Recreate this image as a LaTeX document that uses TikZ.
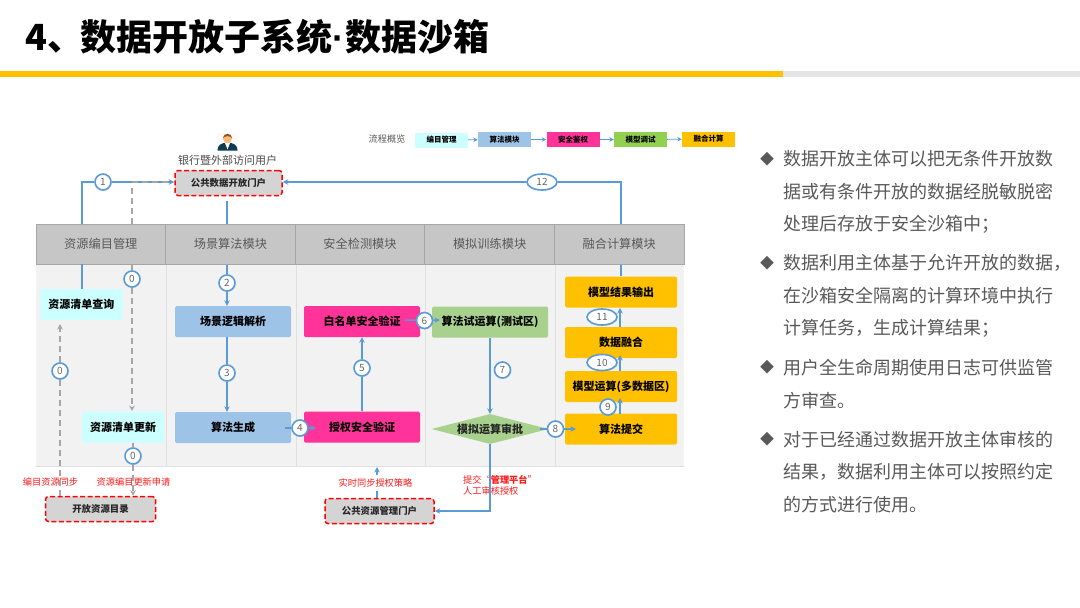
\documentclass[tikz,border=0pt]{standalone}
\usepackage{fontspec}
\setmainfont{Noto Sans CJK SC}
\newfontfamily\latinf{Liberation Sans}
\usetikzlibrary{arrows.meta,shapes.geometric,shadows}
\definecolor{flowblue}{HTML}{5B9BD5}
\definecolor{hdrgray}{HTML}{C6C6C6}
\definecolor{cyanbox}{HTML}{CCFFFF}
\definecolor{bluebox}{HTML}{9DC3E6}
\definecolor{pinkbox}{HTML}{FF3399}
\definecolor{greenbox}{HTML}{A9D18E}
\definecolor{legendgreen}{HTML}{92D050}
\definecolor{orangebox}{HTML}{FFC000}
\definecolor{bodytext}{HTML}{595959}
\definecolor{suit}{HTML}{0E3A52}
\newcommand{\fsz}[1]{\fontsize{#1}{#1}\selectfont}
\tikzset{
 x=1pt,y=-1pt,
 hdr/.style={draw=black!35,line width=1pt,fill=hdrgray,minimum width=129.6pt,minimum height=40pt,inner sep=0pt,text=black!65,font=\fsz{12.2}},
 bx/.style={rounded corners=1.5pt,inner sep=0pt,text=black,font=\fsz{11}\bfseries,minimum height=31pt,minimum width=116pt},
 cyanb/.style={bx,fill=cyanbox,minimum width=82pt},
 blueb/.style={bx,fill=bluebox},
 pinkb/.style={bx,fill=pinkbox},
 greenb/.style={bx,fill=greenbox},
 orangeb/.style={bx,fill=orangebox,minimum width=112pt},
 portal/.style={draw=red,fill=black!17,line width=1.5pt,dash pattern=on 5pt off 2.5pt,rounded corners=3pt,inner sep=0pt,minimum height=25pt,text=black!85,font=\fsz{9.4}\bfseries},
 num/.style={circle,draw=flowblue,line width=1.6pt,fill=white,inner sep=0pt,minimum size=16pt,text=black!60,font=\fsz{10},drop shadow={shadow xshift=.6pt,shadow yshift=-.8pt,opacity=.3}},
 numw/.style={num,ellipse,minimum width=30pt,minimum height=16pt},
 flow/.style={draw=flowblue,line width=1.5pt},
 flowa/.style={flow,-{Stealth[length=5.5pt,width=5.5pt]}},
 grayd/.style={draw=black!35,line width=1.3pt,dash pattern=on 6pt off 4pt},
 graya/.style={grayd,-{Stealth[length=5.5pt,width=5.5pt]}},
 redt/.style={text=red!90!white,font=\fsz{9.2},inner sep=0pt},
 lg/.style={inner sep=0pt,minimum width=53pt,minimum height=15pt,font=\fsz{7.5}\bfseries,text=black},
 lga/.style={draw=flowblue,line width=.9pt,-{Stealth[length=4.5pt,width=4.5pt]}},
 para/.style={anchor=west,align=left,inner sep=0pt,text=bodytext,font=\fontsize{18}{32.4}\selectfont},
 bul/.style={inner sep=0pt,text=bodytext,font=\fsz{14}},
}
\begin{document}
\begin{tikzpicture}
\useasboundingbox[fill=white] (0,0) rectangle (1080,608);
% title and rule
\node[anchor=west,inner sep=0pt,font=\fsz{36}\bfseries,text=black] (title) at (25,37) {4、\kern-3pt 数据开放子系统{\latinf ·}\kern1pt 数据沙箱};
\fill[orangebox] (0,71) rectangle (783,77);
\fill[black!10] (783,71) rectangle (1080,77);
% table
\node[fill=black!5,minimum width=648pt,minimum height=202pt,inner sep=0pt] (tbody) at (360,365) {};
\foreach \sx in {166,296,425,555}{\draw[black!12,line width=1pt] (\sx,264) -- (\sx,466);}
\draw[black!12,line width=.8pt] (36,466) -- (684,466);
\node[hdr] (h1) at (100.8,244) {资源编目管理};
\node[hdr] (h2) at (230.4,244) {场景算法模块};
\node[hdr] (h3) at (360,244) {安全检测模块};
\node[hdr] (h4) at (489.6,244) {模拟训练模块};
\node[hdr] (h5) at (619.2,244) {融合计算模块};
% user icon
\fill[black!2] (217,133) rectangle (238,151);
\fill[suit] (217.5,150.5) .. controls (217.5,145) and (221,143) .. (227.5,142.5) .. controls (234,143) and (237.5,145) .. (237.5,150.5) -- cycle;
\fill[white] (225,143) -- (230,143) -- (227.5,149.5) -- cycle;
\fill[orange!55!white] (227.5,138.5) circle[radius=4.5pt];
\fill[brown!70!black] (223,138) .. controls (223,132.5) and (232,132.5) .. (232,138) .. controls (229,135.5) and (226,135.5) .. (223,138) -- cycle;
\node[inner sep=0pt,text=black!70,font=\fsz{11}] (user) at (227.5,160) {银行暨外部访问用户};
% legend
\node[inner sep=0pt,text=black!65,font=\fsz{9.2}] (lgt) at (387,139) {流程概览};
\node[lg,fill=cyanbox] (l1) at (441.5,140) {编目管理};
\node[lg,fill=bluebox] (l2) at (504.5,139.5) {算法模块};
\node[lg,fill=pinkbox] (l3) at (573,139.5) {安全鉴权};
\node[lg,fill=legendgreen] (l4) at (640.5,139.5) {模型调试};
\node[lg,fill=orangebox] (l5) at (708.5,139) {融合计算};
\draw[lga] (l1) -- (l2);
\draw[lga] (l2) -- (l3);
\draw[lga] (l3) -- (l4);
\draw[lga] (l4) -- (l5);
% boxes
\node[portal,minimum width=107pt] (pa) at (228.5,183) {公共数据开放门户};
\node[portal,minimum width=110pt] (pb) at (100.5,509) {开放资源目录};
\node[portal,minimum width=109pt] (pc) at (379.5,511) {公共资源管理门户};
\node[cyanb] (q) at (81.5,304.5) {资源清单查询};
\node[cyanb] (u) at (123,427) {资源清单更新};
\node[blueb] (s1) at (233,321.5) {场景逻辑解析};
\node[blueb] (s2) at (233,427.5) {算法生成};
\node[pinkb] (w1) at (362,321.5) {白名单安全验证};
\node[pinkb] (w2) at (362,427) {授权安全验证};
\node[greenb] (g1) at (490,322) {算法试运算(测试区)};
\node[diamond,aspect=3.9,fill=greenbox,inner sep=0pt,minimum width=117pt,minimum height=30pt,text=black!85,font=\fsz{11}\bfseries] (d) at (490,429) {模拟运算审批};
\node[orangeb] (o1) at (621,292) {模型结果输出};
\node[orangeb] (o2) at (621,342.5) {数据融合};
\node[orangeb] (o3) at (621,386.5) {模型运算(多数据区)};
\node[orangeb] (o4) at (621,429) {算法提交};
% red labels
\node[redt] (r1) at (50.5,482) {编目资源同步};
\node[redt] (r2) at (133.5,482) {资源编目更新申请};
\node[redt] (r3) at (375.5,483) {实时同步授权策略};
\node[redt,anchor=west,align=left,font=\fontsize{9.2}{11}\selectfont] (r4) at (463,485.5) {提交“\textbf{管理平台}”\\人工审核授权};
% number badges
\node[num] (n1) at (103,182) {1};
\node[num] (z1) at (132,279) {0};
\node[num] (z2) at (60,371) {0};
\node[num] (z3) at (133,456) {0};
\node[num] (n2) at (227,283) {2};
\node[num] (n3) at (227,373) {3};
\node[num] (n4) at (300,428) {4};
\node[num] (n5) at (362,368) {5};
\node[num] (n6) at (424.5,320.5) {6};
\node[num] (n7) at (502.5,370) {7};
\node[num] (n8) at (555.5,429) {8};
\node[num] (n9) at (608,407) {9};
\node[numw] (n10) at (602,362.5) {10};
\node[numw] (n11) at (602,317) {11};
\node[numw] (n12) at (542,182) {12};
% connector anchors
\coordinate (c1a) at (82,224);
\coordinate (c1b) at (82,182);
\coordinate (c1c) at (82,264);
\coordinate (c1d) at (82,289);
\coordinate (c1g) at (132,182);
\coordinate (c2a) at (227,201);
\coordinate (g1a) at (132,188);
\coordinate (g1b) at (132,224);
\coordinate (g1c) at (132,264);
\coordinate (g1d) at (132,411);
\coordinate (c4a) at (285,428);
\coordinate (c4b) at (316,428);
\coordinate (c6a) at (405,320);
\coordinate (c6b) at (440,320);
\coordinate (c8a) at (540,429);
\coordinate (c8b) at (576,429);
\coordinate (c9a) at (620,414);
\coordinate (c9b) at (620,398);
\coordinate (c10a) at (620,371);
\coordinate (c10b) at (620,355);
\coordinate (c11a) at (620,327);
\coordinate (c11b) at (620,308);
\coordinate (c12) at (621,182);
\coordinate (cd) at (490,511);
\coordinate (cr) at (377,467);
\coordinate (cr2) at (377,475);
\coordinate (cr3) at (377,491);
% connectors
\draw[flow] (c1a) -- (c1b) -- (n1);
\draw[flowa] (n1) -- (pa.west |- n1);
\draw[grayd] (c1g) -- (170,182);
\draw[flow] (c2a) -- (h2.north -| c2a);
\draw[grayd] (g1a) -- (g1b);
\draw[grayd] (g1c) -- (z1);
\draw[graya] (z1) -- (g1d);
\draw[flow] (c1c) -- (c1d);
\draw[grayd] (pb.north -| z2) -- (z2);
\draw[graya] (z2) -- (60,324);
\draw[grayd] (u.south -| z3) -- (z3);
\draw[graya] (z3) -- (pb.north -| z3);
\draw[flow] (h2.south -| n2) -- (n2);
\draw[flowa] (n2) -- (s1.north -| n2);
\draw[flow] (s1.south -| n3) -- (n3);
\draw[flowa] (n3) -- (s2.north -| n3);
\draw[flow] (c4a) -- (n4);
\draw[flowa] (n4) -- (c4b);
\draw[flow] (w2.north -| n5) -- (n5);
\draw[flowa] (n5) -- (w1.south -| n5);
\draw[flow] (c6a) -- (n6);
\draw[flowa] (n6) -- (c6b);
\draw[flowa] (g1.south -| d) -- (d.north);
\draw[flowa] (d.south) -- (cd) -- (pc.east |- cd);
\draw[flow] (c8a) -- (n8);
\draw[flowa] (n8) -- (c8b);
\draw[flowa] (c9a) -- (c9b);
\draw[flowa] (c10a) -- (c10b);
\draw[flowa] (c11a) -- (c11b);
\draw[flow] (h5.south -| c12) -- (o1.north -| c12);
\draw[flow] (h5.north -| c12) -- (c12) -- (n12);
\draw[flowa] (n12) -- (pa.east |- n12);
\draw[flowa] (cr2) -- (cr);
\draw[flow] (pc.north -| cr3) -- (cr3);
% right text
\node[bul] (b1) at (767,159) {◆};
\node[para] (t1) at (783,192) {数据开放主体可以把无条件开放数\\据或有条件开放的数据经脱敏脱密\\处理后存放于安全沙箱中；};
\node[bul] (b2) at (767,263) {◆};
\node[para] (t2) at (783,296) {数据利用主体基于允许开放的数据，\\在沙箱安全隔离的计算环境中执行\\计算任务，生成计算结果；};
\node[bul] (b3) at (767,367) {◆};
\node[para] (t3) at (783,384) {用户全生命周期使用日志可供监管\\方审查。};
\node[bul] (b4) at (767,439) {◆};
\node[para] (t4) at (783,472) {对于已经通过数据开放主体审核的\\结果，数据利用主体可以按照约定\\的方式进行使用。};
\end{tikzpicture}
\end{document}
